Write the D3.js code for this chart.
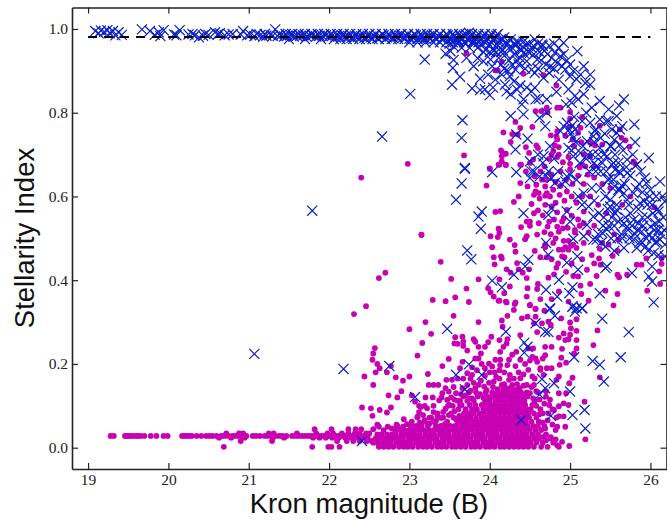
<!DOCTYPE html>
<html>
<head>
<meta charset="utf-8">
<script src="https://cdn.jsdelivr.net/npm/d3@7"></script>
<style>
html, body { margin: 0; padding: 0; background: #fff; overflow: hidden; }
.axis text { font-family: "Liberation Serif", serif; font-size: 15.5px; fill: #222; }
.axis path, .axis line { stroke: #222; }
.axis path { stroke-width: 1.6px; }
.axis line { stroke-width: 1.2px; }
.label { font-family: "Liberation Sans", sans-serif; font-size: 27.5px; fill: #111; }
</style>
</head>
<body>
<div id="main"></div>
<script>
var xTicks = [19, 20, 21, 22, 23, 24, 25, 26];
var yTicks = [0, 0.2, 0.4, 0.6, 0.8, 1];
var cutMag = [19, 26];
var cutStell = 0.981;

// galaxies, thin tail on the bright side: one stellarity with its magnitudes
var galaxyTail = [
  [0.028, [19.28,19.32,19.46,19.48,19.5,19.53,19.56,19.6,19.62,19.65,19.7,19.78,19.85,19.94,19.99,20.17,20.2,20.23,20.26,20.29,20.35,20.41,20.47,20.51,20.55,20.6,20.66,20.7,20.75,20.8,20.84,20.88,20.92,20.97,21.05,21.09,21.14,21.2,21.24,21.29,21.33,21.38,21.42,21.47,21.54,21.58,21.62,21.66,21.7,21.74,21.78,21.82,21.86,21.9,21.94,21.98,22.02,22.06,22.1,22.14,22.18,22.22,22.26,22.3,22.35,22.4,22.44]],
  [0.024, [20.63,20.78,20.95,21.3,21.44,21.8,21.88,21.96,22.04,22.12,22.2,22.28,22.36,22.42,22.48]],
  [0.034, [20.72,20.88,20.93,21.25,21.31,21.6,21.84,21.98,22.05,22.16,22.24,22.32,22.38,22.46,22.5]],
  [0.044, [21.82,22.03,22.24,22.33,22.4,22.55]],
  [0.016, [20.9,21.29,22.1,22.22,22.3,22.38,22.47,22.53]],
  [0.002, [20.69,21.79,21.99,22.03,22.13]]
];

// the solid foot of the faint galaxies, row by row
var galaxyRows = [
  [0.002, [22.62,22.68,22.74,22.8,22.87,22.93,22.98,23.04,23.11,23.17,23.22,23.28,23.35,23.4,23.46,23.53,23.58,23.64,23.7,23.77,23.82,23.88,23.95,24,24.06,24.13,24.18,24.24,24.3,24.36,24.42,24.48,24.55,24.64,24.72,24.86]],
  [0.012, [22.55,22.6,22.66,22.71,22.77,22.84,22.9,22.95,23.01,23.08,23.14,23.19,23.25,23.32,23.37,23.43,23.5,23.55,23.61,23.67,23.74,23.79,23.85,23.92,23.97,24.03,24.1,24.15,24.21,24.27,24.33,24.39,24.45,24.51,24.58,24.66,24.79]],
  [0.022, [22.58,22.63,22.69,22.75,22.81,22.86,22.92,22.99,23.05,23.1,23.16,23.23,23.29,23.34,23.41,23.47,23.52,23.59,23.65,23.71,23.76,23.83,23.89,23.94,24.01,24.07,24.12,24.19,24.25,24.31,24.37,24.43,24.49,24.56,24.62,24.75]],
  [0.032, [22.6,22.65,22.72,22.78,22.83,22.9,22.96,23.02,23.07,23.13,23.2,23.26,23.31,23.38,23.44,23.49,23.56,23.62,23.68,23.73,23.8,23.86,23.91,23.98,24.04,24.09,24.16,24.22,24.28,24.34,24.4,24.46,24.53,24.6,24.7]],
  [0.042, [22.82,22.88,22.94,23,23.06,23.12,23.18,23.24,23.3,23.36,23.42,23.48,23.54,23.6,23.66,23.72,23.78,23.84,23.9,23.96,24.02,24.08,24.14,24.2,24.26,24.32,24.38,24.44,24.5,24.57]],
  [0.052, [22.85,23.09,23.15,23.23,23.33,23.39,23.45,23.51,23.57,23.63,23.69,23.75,23.81,23.87,23.93,23.99,24.05,24.11,24.17,24.23,24.29,24.35,24.41,24.47,24.54,24.68]],
  [0.062, [23.19,23.3,23.47,23.6,23.66,23.72,23.79,23.85,23.91,23.97,24.03,24.09,24.15,24.21,24.27,24.33,24.39,24.45,24.52,24.61]],
  [0.072, [23.1,23.27,23.42,23.55,23.64,23.7,23.76,23.83,23.9,23.96,24.02,24.07,24.13,24.19,24.25,24.31,24.37,24.43,24.49,24.58,24.83]],
  [0.082, [23.35,23.52,23.68,23.74,23.8,23.87,23.93,24,24.06,24.12,24.18,24.24,24.3,24.36,24.42,24.48,24.55,24.66]],
  [0.092, [23.61,23.7,23.78,23.84,23.92,23.98,24.04,24.1,24.16,24.22,24.28,24.34,24.4,24.46,24.51,24.63,24.78]],
  [0.102, [23.5,23.65,23.75,23.82,23.9,23.96,24.02,24.08,24.14,24.2,24.26,24.32,24.38,24.44,24.53,24.74]],
  [0.112, [23.63,23.72,23.8,23.94,24,24.07,24.13,24.19,24.25,24.31,24.37,24.43,24.56]],
  [0.122, [23.67,23.85,23.97,24.05,24.11,24.17,24.23,24.29,24.35,24.41,24.47,24.7]],
  [0.132, [23.74,23.83,23.95,24.03,24.09,24.15,24.21,24.27,24.33,24.39,24.46,24.6]]
];

// scattered galaxies as [magnitude, stellarity]
var galaxyLow = [
  [22.41,0.096],[22.52,0.094],[22.54,0.076],[22.63,0.09],[22.72,0.084],[22.77,0.096],[22.6,0.055],[22.62,0.05],[22.84,0.055],[22.93,0.068],[23.07,0.11],[23.12,0.1],[23.19,0.1],[23.1,0.074],[23.03,0.062],[23.0,0.04],[23.19,0.066],
  [23.22,0.094],[23.14,0.097],[23.2,0.12],[23.29,0.12],[23.3,0.1],[23.4,0.12],[23.36,0.15],[23.41,0.13],[23.37,0.113],[23.45,0.093],[23.48,0.1],[23.54,0.1],[23.63,0.102],[23.56,0.115],
  [23.49,0.212],[23.41,0.195],[23.23,0.176],[23.24,0.15],[23.3,0.15],[23.46,0.162],[23.53,0.162],[23.63,0.19],[23.67,0.165],[23.76,0.165],[23.78,0.174],[23.82,0.213],[23.86,0.213],[23.99,0.201],[24.07,0.21],[24.13,0.21],[24.24,0.21],[24.22,0.197],[24.03,0.194],[24.13,0.197],[24.25,0.174],[24.38,0.166],[24.48,0.186],[24.53,0.17],[24.63,0.186],[24.63,0.19],
  [23.45,0.142],[23.49,0.134],[23.47,0.114],[23.52,0.12],[23.75,0.118],[23.78,0.118],[23.82,0.142],[23.86,0.15],[23.93,0.146],[23.96,0.138],[24.02,0.121],[24.07,0.128],[24.08,0.169],[24.15,0.15],[24.17,0.141],[24.24,0.162],[24.32,0.138],[24.26,0.142],[24.46,0.15],[24.55,0.15],
  [23.55,0.315],[23.86,0.3],[23.27,0.272],[23.57,0.264],[23.66,0.265],[23.56,0.249],[23.67,0.253],[23.67,0.243],[23.6,0.248],[23.8,0.259],[23.82,0.253],[23.86,0.241],[23.98,0.252],[24.02,0.265],[24.12,0.257],[24.22,0.259],[24.21,0.249],[24.17,0.241],[24.13,0.229],[23.72,0.232],[23.94,0.241],[23.89,0.225],[24.33,0.229],[24.38,0.269],[24.48,0.237],[24.54,0.237],[24.57,0.213],[24.53,0.217],[24.59,0.205],[24.69,0.221],[24.66,0.213],[24.77,0.241],[24.69,0.241],[24.86,0.263],[24.92,0.273],[24.94,0.257],[24.98,0.259],[25.08,0.257],[25.01,0.285],[25.08,0.279],[24.9,0.236],[25.08,0.237],[25.05,0.225],[24.89,0.215],[24.95,0.203],[24.87,0.198],[24.77,0.19],[24.71,0.19],[24.67,0.174],[24.83,0.162],[24.86,0.17],[25.03,0.167],[24.99,0.154],[24.86,0.13],[24.95,0.13],[25.18,0.11],[25.29,0.245],[25.37,0.168],[25.19,0.02],[24.99,0.004],[24.9,0.014],[24.84,0.006],[24.94,0.05],[24.82,0.042],[24.84,0.05],[24.56,0.022],[24.61,0.028],[24.69,0.046],[24.67,0.026],[24.86,0.099],[24.92,0.106],[24.98,0.102],[24.86,0.075],[24.92,0.075],[24.73,0.082],
  [24.15,0.304],[24.16,0.289],[24.22,0.315],[24.3,0.329],[24.32,0.347],[24.21,0.347],[24.12,0.351],[24.4,0.309],[24.47,0.313],[24.5,0.341],[24.57,0.331],[24.57,0.313],[24.55,0.297],[24.68,0.327],[24.65,0.297],[24.73,0.301],[24.76,0.293],[24.59,0.276],[24.89,0.309],[25.0,0.299],[25.08,0.307],[25.0,0.27],[25.34,0.28],
  [22.4,0.645],[22.98,0.678],[23.15,0.508],[22.7,0.418],[22.62,0.405],[22.46,0.338],[22.31,0.319],[23.0,0.283],[23.2,0.3],[22.57,0.238],[22.55,0.225],[22.54,0.21],[22.6,0.2],[22.63,0.19],[22.58,0.18],[22.77,0.195],[22.72,0.18],[22.83,0.168],[22.92,0.16],[23.0,0.17],[23.03,0.125],[22.9,0.135],[22.85,0.12],[22.74,0.125],[22.55,0.15],[22.44,0.17],[23.1,0.22],[23.16,0.25]
];

// second pass over the lower mass, where the first pass left holes
var galaxyFill = [
  [23.58,0.068],[23.33,0.064],[23.39,0.071],[23.49,0.078],[23.44,0.056],[23.25,0.058],[23.56,0.087],[23.62,0.076],[23.6,0.112],[23.7,0.125],[23.76,0.136],[23.66,0.142],[23.72,0.15],[23.8,0.155],[23.89,0.16],[23.94,0.172],[23.99,0.155],[24.04,0.145],[24.1,0.14],[24.05,0.158],[24.12,0.165],[24.18,0.152],[24.21,0.142],[24.28,0.15],[24.34,0.152],[24.37,0.142],[24.42,0.148],[24.3,0.165],[24.36,0.18],[24.42,0.175],[24.18,0.18],[24.12,0.185],[24.06,0.18],[24,0.18],[23.94,0.19],[23.9,0.2],[23.84,0.185],[23.78,0.192],[23.72,0.178],[23.66,0.205],[23.6,0.165],[23.55,0.145],[23.58,0.13],[23.64,0.128],[23.88,0.128],[23.92,0.12],[24.5,0.13],[24.54,0.118],[24.58,0.1],[24.62,0.08],[24.66,0.06],[24.6,0.052],[24.64,0.042],[24.72,0.065],[24.78,0.055],[24.76,0.025],[24.7,0.018],[24.82,0.02],[24.52,0.145],[24.58,0.135],[24.62,0.115],[24.68,0.105],[24.7,0.135],[24.75,0.115],[24.8,0.09],[24.56,0.165],[24.44,0.2],[24.5,0.208],[24.38,0.21],[24.32,0.195],[24.28,0.222],
  [22.68,0.042],[22.73,0.05],[22.78,0.046],[22.92,0.05],[22.97,0.056],[23.02,0.052],[23.07,0.05],[23.13,0.06],[23.25,0.072],[23.35,0.075],[23.3,0.085],[23.12,0.085],[23.17,0.078],[23.42,0.085]
];

var galaxyHigh = [
  [23.15,0.509],[23.39,0.444],[23.29,0.353],[23.45,0.35],[23.57,0.359],[23.74,0.348],[23.52,0.403],[23.71,0.38],[23.86,0.402],[23.96,0.626],[24,0.666],[24.11,0.676],[24.2,0.676],[24.07,0.563],[24.13,0.565],[24.11,0.523],[24.12,0.513],[24.1,0.503],[24.01,0.505],[24.25,0.497],[24.03,0.479],[24.31,0.484],[24.32,0.468],[24.05,0.455],[24.14,0.457],[24.15,0.452],[24.06,0.438],[24.34,0.441],[24.21,0.426],[24.26,0.418],[24.36,0.426],[24.41,0.418],[24.49,0.426],[24.12,0.402],[23.98,0.381],[24.01,0.371],[24.05,0.361],[24.11,0.351],[24.18,0.369],[24.25,0.385],[24.2,0.349],[24.31,0.343],[24.46,0.405],[24.47,0.381],[24.6,0.391],[24.59,0.379],[24.46,0.361],[24.63,0.355],[24.73,0.406],[24.8,0.414],[24.86,0.373],[24.77,0.355],[24.5,0.34],[24.57,0.332],[25.13,0.387],[25.25,0.391],[25.44,0.375],[25.14,0.367],[25.59,0.367],[25.23,0.351],[25.1,0.409],[25.21,0.425],[24.98,0.349],[25.54,0.34],[25.59,0.413],[25.61,0.407],[25.71,0.413],[25.83,0.437],[25.89,0.437],[25.95,0.452],[26.12,0.391],[25.96,0.375],[26.14,0.453],[26.14,0.439],[26.11,0.421],[26.05,0.574],[25.38,0.437],[25.36,0.452],[25.53,0.458],[25.59,0.47],[25.37,0.475],[25.48,0.485],[25.4,0.489],[25.6,0.497],
  [24.38,0.632],[24.47,0.624],[24.58,0.628],[24.69,0.624],[24.38,0.676],[24.5,0.68],[24.57,0.612],[24.55,0.604],[24.61,0.608],[24.36,0.6],[24.3,0.587],[24.62,0.595],[24.71,0.608],[24.79,0.616],[24.69,0.602],[24.75,0.6],[24.87,0.604],[24.96,0.612],[24.52,0.582],[24.6,0.567],[24.69,0.58],[24.77,0.576],[24.84,0.562],[24.92,0.548],[24.9,0.54],[24.96,0.568],[25.02,0.554],[25.17,0.564],[24.46,0.54],[24.5,0.54],[24.61,0.536],[24.5,0.53],[24.39,0.527],[24.74,0.54],[24.72,0.528],[24.84,0.528],[24.91,0.524],[24.86,0.516],[25.06,0.52],[25.12,0.53],[25.17,0.536],[25.23,0.514],[25.06,0.514],[24.92,0.494],[24.98,0.494],[25.04,0.485],[25.08,0.477],[24.94,0.479],[25.01,0.482],[24.86,0.473],[24.91,0.473],[24.98,0.473],[24.46,0.505],[24.44,0.498],[24.59,0.509],[24.79,0.489],[24.69,0.485],[24.69,0.479],[24.63,0.455],[24.71,0.455],[24.77,0.45],[24.9,0.457],[24.93,0.455],[25.17,0.489],
  [23.71,0.942],[24.15,0.922],[24.07,0.901],[24.1,0.901],[24.42,0.893],[24.67,0.89],[24.83,0.865],[24.57,0.804],[24.64,0.804],[24.71,0.812],[24.72,0.801],[24.84,0.812],[24.88,0.812],[25,0.802],[24.32,0.778],[25,0.786],[25.15,0.79],[24.38,0.764],[24.53,0.766],[24.17,0.753],[24.28,0.749],[24.35,0.748],[24.26,0.73],[24.76,0.746],[24.84,0.756],[24.83,0.744],[24.84,0.736],[24.94,0.745],[24.99,0.766],[25.1,0.752],[25.13,0.764],[25.03,0.736],[25.14,0.73],[25.05,0.72],[24.45,0.718],[24.58,0.722],[24.6,0.716],[24.81,0.722],[24.86,0.718],[24.79,0.708],[24.77,0.7],[24.86,0.7],[24.84,0.694],[24.14,0.71],[24.16,0.704],[24.2,0.702],[24.15,0.696],[24.12,0.676],[24.15,0.684],[24.2,0.675],[24.39,0.676],[24.49,0.704],[24.54,0.688],[23.68,0.698],[24,0.667],[24.91,0.682],[24.98,0.694],[25,0.678],[25.17,0.7],[25.15,0.676],[25.19,0.672],[25.25,0.728],[25.31,0.722],[25.4,0.724],[25.37,0.769],[25.25,0.696],[25.3,0.672],[25.64,0.74],[25.69,0.734],[25.74,0.719],[25.79,0.684],[25.81,0.678],[25.62,0.76],
  [24.45,0.66],[24.56,0.648],[24.65,0.64],[24.77,0.652],[24.88,0.66],[25,0.665],[25.1,0.65],[25.12,0.67],[25.03,0.63],[25.17,0.63],[24.95,0.64],[25.22,0.652],[25.3,0.645],[25.4,0.63],[25.5,0.62],[25.25,0.6],[25.35,0.58],[25.45,0.56],[25.3,0.53],[25.55,0.51],[25.15,0.6],[25.65,0.58],[25.75,0.6],
  [24.74,0.69],[24.68,0.672],[24.63,0.66],[24.7,0.64],[24.82,0.635],[24.88,0.625],[24.93,0.59],[25.02,0.6],[25.08,0.585],[24.82,0.585],[24.55,0.56],[24.66,0.555],[24.8,0.545],[24.97,0.525],[25.1,0.545],[24.68,0.515],[24.76,0.51],[24.82,0.5],[24.85,0.44],[25.02,0.44],[24.56,0.47],[24.83,0.43],[24.95,0.42],[25.04,0.41],[25.15,0.45],[25.27,0.46],[25.3,0.44],[25.33,0.41]
];

// stars
var starBand = [
  [19.09,0.995],[19.13,0.99],[19.16,0.996],[19.2,0.993],[19.24,0.997],[19.27,0.99],[19.31,0.995],[19.34,0.985],[19.38,0.992],[19.42,0.986],[19.67,0.999],[19.77,0.995],[19.83,0.986],[19.88,0.992],[19.94,0.997],[19.9,0.983],[20.07,0.987],[20.14,0.997],[20.1,0.985],[20.25,0.987],[20.33,0.985],[20.38,0.98],[20.43,0.984],[20.5,0.986],[20.58,0.992],[20.64,0.99],[20.7,0.985],[20.75,0.987],[20.93,0.995],[20.9,0.987],[20.98,0.985],[21.02,0.987],[21.07,0.983],[21.14,0.985],[21.18,0.982],[21.22,0.984],[21.27,0.986],[21.33,0.999],[21.3,0.984],[21.36,0.983],[21.4,0.985],[21.44,0.982],[21.48,0.984],[21.52,0.986],[21.56,0.982],[21.6,0.984],[21.64,0.983],[21.68,0.985],[21.72,0.982],[21.76,0.984],[21.8,0.986],[21.84,0.982],[21.88,0.984],[21.92,0.983],[21.96,0.985],[22,0.982],[22.04,0.984],[22.08,0.98],[22.12,0.983],[22.16,0.985],[22.2,0.981],[22.24,0.983],[22.28,0.979],[22.32,0.984],[22.36,0.981],[22.4,0.983],[22.44,0.979],[22.48,0.984],[22.52,0.98],[22.56,0.983],[22.6,0.978],[22.64,0.982],[22.68,0.985],[22.72,0.98],[22.76,0.983],[22.8,0.978],[22.84,0.982],[22.88,0.985],[22.92,0.98],[22.96,0.983],[23,0.977],[23.04,0.982],[23.08,0.985],[23.12,0.979],[23.16,0.983],[23.2,0.977],[23.24,0.982],[23.28,0.985],[23.32,0.978],[23.36,0.983],[23.4,0.976],[23.44,0.981],[23.48,0.985],[23.52,0.977],[23.56,0.983],[23.6,0.975],[23.64,0.981],[23.68,0.985],[23.72,0.975],[23.74,0.991],[23.76,0.982],[23.8,0.972],[23.84,0.983],[23.88,0.975],[23.92,0.984],[23.96,0.972],[24,0.982],[24.04,0.975],[24.08,0.984],[24.12,0.972],
  [23.5,0.965],[23.55,0.958],[23.6,0.968],[23.65,0.955],[23.7,0.965],[23.75,0.955],[23.8,0.968],[23.85,0.955],[23.9,0.965],[23.95,0.95],[24,0.962],[24.05,0.948],[24.1,0.96],[24.14,0.945],[24.18,0.98],[24.22,0.965],[24.26,0.975],[24.28,0.955],[24.32,0.96],[24.36,0.968],[24.4,0.95],[24.44,0.962],[24.48,0.945],[24.52,0.955],[24.6,0.965],[24.55,0.94],[24.66,0.96],[24.2,0.94],[24.3,0.94],[24.38,0.93]
];

// extra rows across the band, which is nearly solid blue in the middle
var starBandRows = [
  [0.988, [20.3,20.46,20.62,20.8,21.1,21.2,21.38,21.46,21.54,21.62,21.7,21.78,21.86,21.94,22.02,22.1,22.18,22.26,22.34,22.42,22.5,22.58,22.66,22.74,22.82,22.9,22.98,23.06,23.14,23.22,23.3,23.38,23.46,23.54,23.62,23.7,23.78,23.86,23.94,24.02,24.1]],
  [0.976, [21.5,21.7,21.9,22.06,22.14,22.22,22.3,22.38,22.46,22.54,22.62,22.7,22.78,22.86,22.94,23.02,23.1,23.18,23.26,23.34,23.42,23.5,23.58,23.66,23.74,23.82,23.9,23.98,24.06,24.14]],
  [0.968, [23,23.1,23.2,23.3,23.38,23.46,23.54,23.62,23.68,23.78,23.86,23.94,24.02,24.11,24.2,24.34]]
];

var starTurnoff = [
  [23.19,0.927],[23.53,0.867],[23.63,0.886],[23.54,0.907],[23.55,0.926],[23.45,0.941],[23.51,0.947],[23.71,0.931],[23.78,0.858],[23.88,0.854],[23.94,0.856],[24,0.842],[24.04,0.86],[23.88,0.881],[23.98,0.891],[24.07,0.879],[23.8,0.911],[23.92,0.923],[24.01,0.927],[24.11,0.931],[24.03,0.911],[24.15,0.891],[24.23,0.899],[24.32,0.903],[24.25,0.887],[24.19,0.867],[24.21,0.851],[24.26,0.844],[24.34,0.855],[24.46,0.86],[24.52,0.851],[24.42,0.832],[24.57,0.832],[24.61,0.833],[24.71,0.832],[24.4,0.82],[24.42,0.796],[24.26,0.792],[24.62,0.788],[24.71,0.8],[24.69,0.768],[24.47,0.738],[24.33,0.748],[23.66,0.782],[23.65,0.74],[23.69,0.668],
  [24.92,0.967],[25.09,0.947],[24.65,0.963],[24.55,0.959],[24.38,0.951],[24.42,0.943],[24.5,0.943],[24.59,0.927],[24.46,0.923],[24.67,0.883],[24.52,0.903],[24.81,0.943],[24.88,0.935],[24.77,0.931],[24.84,0.919],[24.9,0.911],[24.94,0.903],[25,0.887],[24.86,0.879],[25.17,0.911],[25.25,0.891],[25.13,0.891],[25.19,0.871],[24.98,0.856],[25.25,0.867],[25.17,0.844],[25.06,0.84],[25.1,0.832],[25.02,0.824],[25.37,0.828],[25.67,0.832],[25.61,0.817],[25.48,0.808],[25.27,0.812],[25.2,0.8],[25.58,0.792],[25.8,0.772],[25.62,0.76],[25.81,0.73],[25.98,0.692],[25.37,0.784],[25.25,0.776],[24.92,0.768],[24.96,0.776],[24.88,0.756],[25.31,0.756],[25.52,0.76],[25.58,0.752],[25.65,0.768],[25.29,0.744],[25.21,0.732],[25.37,0.716],[25.5,0.72],[25.62,0.724],[24.98,0.716],[24.75,0.72],[24.32,0.712],[24.5,0.684],[24.67,0.696],[25.04,0.696],[25.13,0.704],[25.46,0.696],[25.54,0.68],[25.71,0.688],[25.83,0.676],
  [25.05,0.79],[24.95,0.82],[25.15,0.78],[25.45,0.78],[24.83,0.85],[24.75,0.91],[24.72,0.94],[25.3,0.73],[25.55,0.735],[25.4,0.68],
  [24.16,0.95],[24.24,0.925],[24.28,0.915],[24.36,0.915],[24.44,0.905],[24.56,0.895],[24.6,0.905],[24.64,0.925],[24.7,0.915],[24.74,0.895],[24.8,0.905],[24.56,0.975],[24.62,0.945],[24.68,0.948],[24.74,0.96],[24.8,0.965],[24.86,0.955],[24.92,0.94],[24.96,0.925],[25,0.915],[25.04,0.9],[25.08,0.88],[24.3,0.965],[24.24,0.955],[24.34,0.925],[24.48,0.965],[24.42,0.97],[24.14,0.915],[24.18,0.905],[24.08,0.945],[24,0.945],[23.92,0.945],[23.85,0.93],[24.3,0.875],[24.38,0.865],[24.56,0.86]
];

var starScatter = [
  [21.07,0.224],[21.79,0.566],[22.66,0.743],[23.01,0.845],[22.18,0.188],[22.75,0.195],[23.07,0.121],[22.41,0.016],
  [23.69,0.666],[23.65,0.631],[23.58,0.592],[23.9,0.564],[23.86,0.552],[23.89,0.523],[23.72,0.471],[23.77,0.45],[24.03,0.658],[24.33,0.658],[24.52,0.66],[24.5,0.644],[24.62,0.648],[24.77,0.644],[24.81,0.632],[24.73,0.66],[24.96,0.648],[25,0.652],[24.94,0.636],[24.42,0.56],[24.77,0.572],[24.73,0.556],[24.96,0.564],[25,0.54],[25.17,0.608],[25.15,0.58],[25.23,0.576],[25.29,0.552],[25.21,0.532],[25.04,0.499],[25.17,0.505],[24.7,0.489],[24.73,0.461],[24.96,0.442],[25.09,0.457],[25.1,0.425],[24.48,0.449],[24.44,0.433],[24.3,0.413],[24.03,0.399],[24.15,0.383],[24.86,0.401],[25.03,0.383],[24.99,0.369],[24.7,0.377],[24.84,0.361],[24.75,0.333],[25.03,0.337],[25.15,0.333],[25.37,0.369],[25.46,0.433],[25.44,0.429],[25.77,0.417],[26.02,0.397],[25.98,0.409],[26.02,0.433],[26.04,0.347],[25.49,0.642],[25.6,0.616],[25.5,0.592],[25.5,0.576],[25.56,0.56],[25.58,0.568],[25.62,0.616],[25.67,0.608],[25.71,0.592],[25.79,0.608],[25.87,0.584],[25.95,0.632],[26,0.616],[26.12,0.636],[25.62,0.656],[25.52,0.676],[25.33,0.672],[25.71,0.656],[25.83,0.676],[25.93,0.644],[25.64,0.626],[25.56,0.664],
  [25.33,0.497],[25.29,0.497],[25.46,0.521],[25.4,0.513],[25.67,0.536],[25.71,0.528],[25.79,0.544],[25.85,0.536],[25.89,0.516],[26,0.528],[26.06,0.536],[26.1,0.564],[26.18,0.588],[26.08,0.492],[26.12,0.497],[26.18,0.485],[25.79,0.497],[25.83,0.477],[25.67,0.477],[26.04,0.465],[26.18,0.457],[25.42,0.55],[25.55,0.53],[25.65,0.5],[25.72,0.52],[25.9,0.55],[25.95,0.5],[25.75,0.56],[26.1,0.52],
  [23.47,0.284],[23.58,0.174],[23.74,0.199],[23.69,0.139],[23.9,0.174],[24.2,0.277],[24.39,0.066],[24.43,0.251],[24.47,0.241],[24.43,0.227],[24.57,0.297],[24.69,0.277],[24.73,0.276],[24.75,0.331],[24.81,0.315],[25.03,0.337],[25.08,0.333],[25.15,0.333],[25.06,0.325],[25.4,0.308],[25.05,0.216],[25.28,0.207],[25.37,0.198],[25.42,0.158],[24.65,0.164],[24.8,0.154],[24.69,0.142],[24.62,0.127],[25,0.134],[24.76,0.076],[25.03,0.078],[25.18,0.09],[25.19,0.046],[25.73,0.276],[25.63,0.216]
];

// the crowded patch on the right hand side
var starCluster = [
  [25.32,0.66],[25.38,0.62],[25.42,0.7],[25.47,0.64],[25.51,0.72],[25.44,0.6],[25.36,0.56],[25.41,0.53],[25.47,0.57],[25.53,0.62],[25.58,0.58],[25.61,0.66],[25.66,0.71],[25.68,0.63],[25.73,0.58],[25.75,0.65],[25.78,0.7],[25.82,0.62],[25.85,0.57],[25.88,0.66],[25.92,0.59],[25.96,0.55],[25.99,0.6],[26.03,0.56],[26.07,0.6],[26.11,0.54],[26.15,0.6],[26.17,0.52],[25.6,0.54],[25.64,0.51],[25.69,0.55],[25.74,0.5],[25.77,0.53],[25.81,0.51],[25.86,0.49],[25.91,0.53],[25.94,0.48],[25.98,0.51],[26.02,0.5],[26.06,0.49],[26.13,0.51],[25.51,0.5],[25.55,0.47],[25.59,0.5],[25.35,0.51],[25.39,0.49],[25.44,0.48],[25.48,0.53],[25.52,0.55],[25.3,0.59],[25.27,0.62],[25.24,0.66],[25.2,0.69],[25.16,0.72],[25.12,0.68],[25.08,0.64],[25.07,0.73],[25.1,0.6],[25.02,0.71],[25.32,0.76],[25.38,0.74],[25.43,0.75],[25.48,0.78],
  [24.9,0.63],[24.85,0.66],[24.8,0.69],[24.7,0.65],[24.66,0.68],[24.6,0.7],[24.55,0.66],[25.03,0.77],[25.06,0.76],[25.01,0.75],[25.04,0.74],[24.99,0.76],[25.22,0.7],[25.28,0.7],[25.35,0.7],[25.56,0.7],[25.6,0.68],[25.3,0.68],[25.38,0.66],[25.45,0.66],[25.54,0.64],[25.7,0.67],[25.86,0.63],[25.9,0.61],[25.96,0.58],[26.02,0.58],[26.09,0.57],[26.16,0.55],[25.84,0.52],[25.9,0.49],[25.97,0.47],[26.05,0.52],[26.1,0.46]
];

var margin = {top: 7.5, bottom: 51, left: 72, right: 0.5};
var width = 667 - margin.left - margin.right,
    height = 520 - margin.top - margin.bottom;

var svg = d3.select('#main').append('svg')
    .attr('width', 667)
    .attr('height', 520)
    .style('display', 'block');

var g = svg.append('g')
    .attr('transform', 'translate(' + margin.left + ',' + margin.top + ')');

var x = d3.scaleLinear().domain([18.8, 26.2]).range([0, width]);
var y = d3.scaleLinear().domain([-0.0509, 1.0513]).range([height, 0]);

g.append('clipPath').attr('id', 'plot-area')
    .append('rect')
    .attr('width', width)
    .attr('height', height);

var plot = g.append('g').attr('clip-path', 'url(#plot-area)');

// flatten the rows into [magnitude, stellarity]
function flatten(rows) {
    var out = [];
    rows.forEach(function (r) {
        r[1].forEach(function (m) {
            out.push([m, r[0]]);
        });
    });
    return out;
}

var galaxies = flatten(galaxyTail).concat(flatten(galaxyRows), galaxyLow, galaxyFill, galaxyHigh);
var stars = starBand.concat(flatten(starBandRows), starTurnoff, starScatter, starCluster);

plot.selectAll('circle')
    .data(galaxies)
    .enter()
    .append('circle')
    .attr('cx', function (d) { return x(d[0]); })
    .attr('cy', function (d) { return y(d[1]); })
    .attr('r', 2.9)
    .attr('fill', '#c800b4');

var cross = d3.symbol().type(d3.symbolX).size(68);

plot.selectAll('path.star')
    .data(stars)
    .enter()
    .append('path')
    .attr('class', 'star')
    .attr('d', cross)
    .attr('transform', function (d) {
        return 'translate(' + x(d[0]) + ',' + y(d[1]) + ')';
    })
    .attr('fill', 'none')
    .attr('stroke', '#0a1ecb')
    .attr('stroke-width', 1.2);

var cutLine = d3.line()
    .x(function (d) { return x(d); })
    .y(function () { return y(cutStell); });

plot.append('path')
    .datum(cutMag)
    .attr('d', cutLine)
    .attr('fill', 'none')
    .attr('stroke', '#000')
    .attr('stroke-width', 2)
    .attr('stroke-dasharray', '9,7');

var xAxisCall = d3.axisBottom(x).tickValues(xTicks).tickFormat(d3.format('d')).tickSizeInner(-6).tickSizeOuter(0).tickPadding(5);
g.append('g')
    .attr('class', 'axis x-axis')
    .attr('transform', 'translate(0,' + height + ')')
    .call(xAxisCall);

var yAxisCall = d3.axisLeft(y).tickValues(yTicks).tickFormat(d3.format('.1f')).tickSizeInner(-6).tickSizeOuter(0).tickPadding(4);
g.append('g')
    .attr('class', 'axis y-axis')
    .call(yAxisCall);

g.append('g')
    .attr('class', 'axis')
    .call(d3.axisTop(x).tickValues(xTicks).tickFormat('').tickSizeInner(-6).tickSizeOuter(0));

g.append('g')
    .attr('class', 'axis')
    .attr('transform', 'translate(' + width + ',0)')
    .call(d3.axisRight(y).tickValues(yTicks).tickFormat('').tickSizeInner(-6).tickSizeOuter(0));

svg.append('text')
    .attr('class', 'label')
    .attr('x', 369)
    .attr('y', 513)
    .attr('text-anchor', 'middle')
    .text('Kron magnitude (B)');

svg.append('text')
    .attr('class', 'label')
    .attr('text-anchor', 'middle')
    .attr('transform', 'translate(34,238) rotate(-90)')
    .text('Stellarity Index');
</script>
</body>
</html>
